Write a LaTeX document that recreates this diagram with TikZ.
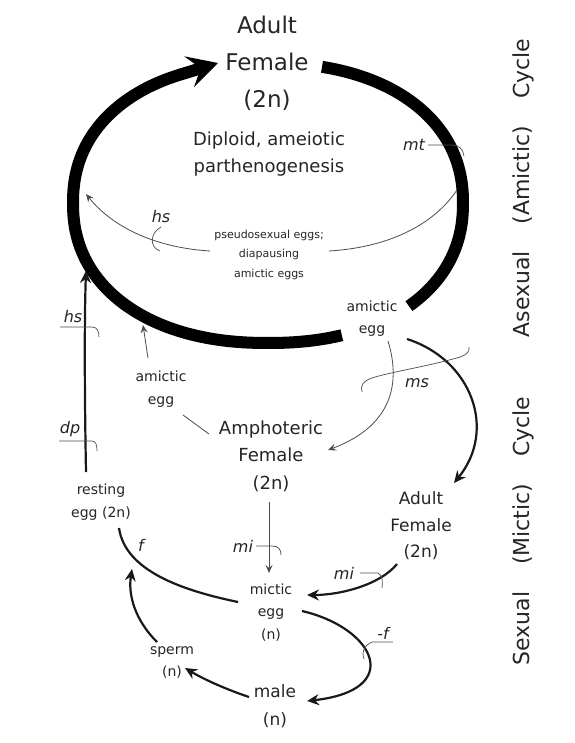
\documentclass[tikz,border=0pt]{standalone}
\usepackage{fontspec}
\setmainfont{DejaVu Sans}
\usetikzlibrary{arrows.meta}
\begin{document}
\begin{tikzpicture}[x=1pt,y=1pt,
  lbl/.style={inner sep=0pt, align=center, text=black!85},
  fbig/.style={lbl, font=\fontsize{23}{37}\selectfont},
  fmid/.style={lbl, font=\fontsize{18}{27.5}\selectfont},
  fadult/.style={lbl, font=\fontsize{17}{26.5}\selectfont},
  fsmall/.style={lbl, font=\fontsize{14}{22.5}\selectfont},
  ftiny/.style={lbl, font=\fontsize{11}{19.5}\selectfont},
  tag/.style={lbl, font=\fontsize{16}{18}\selectfont\itshape},
  side/.style={lbl, font=\fontsize{22}{24}\selectfont, rotate=90},
  ring/.style={line width=12pt, black},
  thick/.style={line width=2.2pt, black!90},
  thin/.style={line width=0.8pt, black!70},
  tick/.style={line width=0.7pt, black!70},
  bigtip/.style={-{Stealth[length=30pt,width=32pt,inset=12pt]}},
  mtip/.style={-{Stealth[length=12pt,width=11pt,inset=4pt]}},
  stip/.style={-{Stealth[length=8pt,width=7pt,inset=3pt]}}
]
\useasboundingbox[fill=white] (0,0) rectangle (574,-743);

% ---------- nodes ----------
\node[fbig] (top) at (267,-63) {Adult\\Female\\(2n)};
\node[fmid] (diploid) at (269,-154) {Diploid, ameiotic\\parthenogenesis};
\node[ftiny] (pseudo) at (269,-254.5) {pseudosexual eggs;\\diapausing\\amictic eggs};
\node[fsmall] (amicR) at (372,-318.5) {amictic\\egg};
\node[fsmall] (amicL) at (161,-389) {amictic\\egg};
\node[fmid] (amph) at (271,-456) {Amphoteric\\Female\\(2n)};
\node[fsmall] (resting) at (101,-502) {resting\\egg (2n)};
\node[fadult] (adultR) at (421,-526) {Adult\\Female\\(2n)};
\node[fsmall] (mictic) at (271,-612.5) {mictic\\egg\\(n)};
\node[fsmall] (sperm) at (172,-662.5) {sperm\\(n)};
\node[fadult, font=\fontsize{17}{28}\selectfont] (male) at (275,-706) {male\\(n)};

\node[tag] (mt) at (414,-145) {mt};
\node[tag] (hsA) at (161,-217) {hs};
\node[tag] (ms) at (417,-383) {ms};
\node[tag] (hsB) at (73,-317) {hs};
\node[tag] (dp) at (70,-429) {dp};
\node[tag] (miA) at (243,-546) {mi};
\node[tag] (miB) at (344,-573) {mi};
\node[tag] (f) at (141,-545) {f};
\node[tag] (mf) at (383,-633) {-f};

\node[side] (asex) at (523,-188) {Asexual\hspace{0.9em} (Amictic)\hspace{0.9em} Cycle};
\node[side] (sex) at (523,-531) {Sexual\hspace{0.9em} (Mictic)\hspace{0.9em} Cycle};

% ---------- big asexual ring (slightly squarish ellipse) ----------
\coordinate (tipA) at (218,-63);
\draw[ring, bigtip] plot[domain=-69.9:-246.4, samples=90, smooth]
  ({268+195*cos(\x)*pow(abs(cos(\x))+0.0001,-0.0909)},
   {-203+140*sin(\x)*pow(abs(sin(\x))+0.0001,-0.0909)}) -- (tipA);
\draw[ring] plot[domain=75.9:-45.6, samples=70, smooth]
  ({268+195*cos(\x)*pow(abs(cos(\x))+0.0001,-0.0909)},
   {-203+140*sin(\x)*pow(abs(sin(\x))+0.0001,-0.0909)});

% ---------- hs arrow through the ring ----------
\coordinate (hsR0) at (457,-190);
\coordinate (hsR1) at (329,-251);
\coordinate (hsL0) at (210,-251);
\coordinate (hsL1) at (86,-194);
\draw[thin] (hsR0) .. controls (430,-230) and (380,-248) .. (hsR1);
\draw[thin, stip] (hsL0) .. controls (160,-248) and (115,-230) .. (hsL1);
\draw[tick] (161,-227) .. controls (150,-233) and (149,-247) .. (160,-251);

% mt marker
\draw[tick] (mt.east) ++(3,0) -- (452,-145) .. controls (459,-145) and (463,-149) .. (464,-156);

% ---------- amictic egg (right) outputs ----------
\coordinate (aR0) at (388,-341);
\coordinate (aR1) at (328,-450);
\draw[thin, stip] (aR0) .. controls (400,-380) and (395,-425) .. (aR1);
\coordinate (aT0) at (407,-339);
\coordinate (aT1) at (454,-483);
\draw[thick, mtip] (aT0) .. controls (472,-360) and (497,-430) .. (aT1);
% ms marker
\draw[tick] (469,-347) .. controls (470,-352) and (466,-355) .. (460,-357)
  .. controls (430,-366) and (390,-372) .. (372,-378)
  .. controls (363,-381) and (360,-386) .. (362,-392);

% ---------- left side ----------
\coordinate (rest0) at (86,-472);
\coordinate (ringL) at (86,-271);
\draw[thick, mtip] (rest0) .. controls (85,-420) and (84,-330) .. (ringL);
\draw[tick] (60,-327) -- (92,-327) .. controls (97,-327) and (99,-331) .. (99,-337);
\draw[tick] (59,-441) -- (92,-441) .. controls (96,-441) and (97,-445) .. (97,-451);

\coordinate (aL0) at (148,-358);
\coordinate (aL1) at (143,-325);
\draw[thin, stip] (aL0) -- (aL1);
\coordinate (aL2) at (183,-415);
\coordinate (amW) at (209,-434);
\draw[thin] (aL2) -- (amW);

% ---------- sexual cycle ----------
\coordinate (am0) at (269,-502);
\coordinate (mc0) at (269,-573);
\draw[thin, stip] (am0) -- (mc0);
\draw[tick] (256,-546) -- (272,-546) .. controls (278,-546) and (281,-549) .. (281,-555);

\coordinate (ad0) at (397,-564);
\coordinate (mc1) at (307,-595);
\draw[thick, mtip] (ad0) .. controls (380,-585) and (340,-595) .. (mc1);
\draw[tick] (360,-573) -- (378,-573) .. controls (382,-575) and (383,-580) .. (382,-588);

\coordinate (mc2) at (238,-602);
\coordinate (rs1) at (119,-528);
\draw[thick] (mc2) .. controls (180,-590) and (125,-570) .. (rs1);

\coordinate (sp0) at (157,-642);
\coordinate (fx) at (132,-569);
\draw[thick, mtip] (sp0) .. controls (135,-620) and (128,-595) .. (fx);

\coordinate (ml0) at (249,-697);
\coordinate (sp1) at (185,-668);
\draw[thick, mtip] (ml0) .. controls (228,-690) and (205,-680) .. (sp1);

\coordinate (mc3) at (302,-611);
\coordinate (ml1) at (307,-701);
\draw[thick, mtip] (mc3) .. controls (375,-628) and (405,-690) .. (ml1);
\draw[tick] (393,-642) -- (372,-642) .. controls (365,-645) and (361,-651) .. (364,-659);

\end{tikzpicture}
\end{document}
